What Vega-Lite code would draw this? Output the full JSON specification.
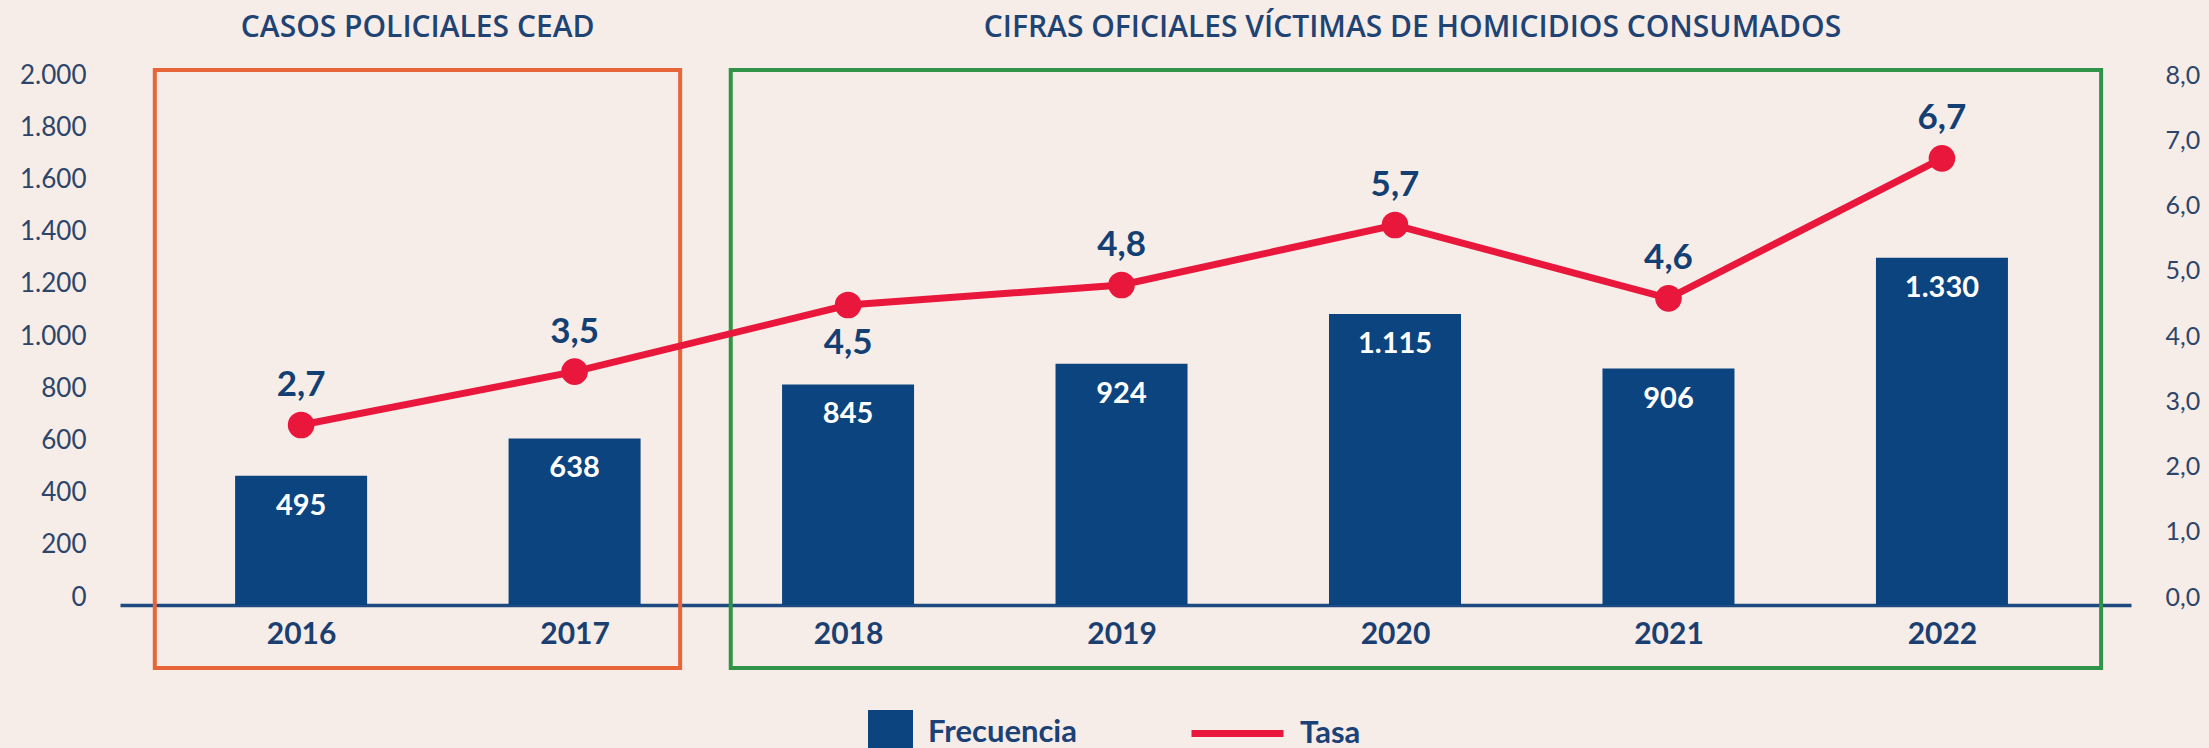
{
  "$schema": "https://vega.github.io/schema/vega-lite/v6.json",
  "width": 2011,
  "height": 522,
  "autosize": {"type": "none"},
  "padding": {"left": 120, "top": 83, "right": 78, "bottom": 143},
  "background": "#f6ede8",
  "config": {
    "view": {"stroke": null},
    "font": "Lato",
    "locale": {"number": {"decimal": ",", "thousands": ".", "grouping": [3], "currency": ["$", ""]}}
  },
  "datasets": {
    "serie": [
      {"anio": 2016, "frecuencia": 495, "tasa": 2.7},
      {"anio": 2017, "frecuencia": 638, "tasa": 3.5},
      {"anio": 2018, "frecuencia": 845, "tasa": 4.5},
      {"anio": 2019, "frecuencia": 924, "tasa": 4.8},
      {"anio": 2020, "frecuencia": 1115, "tasa": 5.7},
      {"anio": 2021, "frecuencia": 906, "tasa": 4.6},
      {"anio": 2022, "frecuencia": 1330, "tasa": 6.7}
    ],
    "grupos": [
      {"grupo": "CASOS POLICIALES CEAD", "desde": 2015.465, "hasta": 2017.386, "centro": 2016.426, "arriba": 2050, "abajo": -241},
      {"grupo": "CIFRAS OFICIALES VÍCTIMAS DE HOMICIDIOS CONSUMADOS", "desde": 2017.571, "hasta": 2022.582, "centro": 2020.064, "arriba": 2050, "abajo": -241}
    ]
  },
  "layer": [
    {
      "layer": [
        {
          "data": {"name": "grupos"},
          "transform": [{"filter": "datum.grupo === 'CASOS POLICIALES CEAD'"}],
          "mark": {"type": "rect", "filled": false, "color": "#e8653a", "strokeWidth": 4},
          "encoding": {
            "x": {"field": "desde", "type": "quantitative", "scale": {"domain": [2015.356, 2022.673], "nice": false, "zero": false},
              "axis": {"values": [2016, 2017, 2018, 2019, 2020, 2021, 2022], "format": "d", "title": null, "domainColor": "#1d4a80", "domainWidth": 3.5, "ticks": false, "grid": false, "labelFontSize": 30, "labelFontWeight": "bold", "labelColor": "#1b3f70", "labelPadding": 14, "labelFlush": false}},
            "x2": {"field": "hasta"},
            "y": {"field": "arriba", "type": "quantitative", "scale": {"domain": [0, 2000], "nice": false},
              "axis": {"values": [0, 200, 400, 600, 800, 1000, 1200, 1400, 1600, 1800, 2000], "format": ",d", "title": null, "domain": false, "ticks": false, "grid": false, "labelPadding": 34, "labelOffset": -8, "labelFontSize": 26, "labelColor": "#2d4569"}},
            "y2": {"field": "abajo"}
          }
        },
        {
          "data": {"name": "grupos"},
          "transform": [{"filter": "datum.grupo !== 'CASOS POLICIALES CEAD'"}],
          "mark": {"type": "rect", "filled": false, "color": "#2f9447", "strokeWidth": 4},
          "encoding": {
            "x": {"field": "desde", "type": "quantitative", "scale": {"domain": [2015.356, 2022.673], "nice": false, "zero": false}, "title": null},
            "x2": {"field": "hasta"},
            "y": {"field": "arriba", "type": "quantitative", "scale": {"domain": [0, 2000], "nice": false}, "title": null},
            "y2": {"field": "abajo"}
          }
        },
        {
          "data": {"name": "grupos"},
          "mark": {"type": "text", "font": "Open Sans", "fontSize": 30, "fontWeight": 600, "color": "#1f4373", "baseline": "middle", "align": "center", "dy": -42},
          "encoding": {
            "x": {"field": "centro", "type": "quantitative", "scale": {"domain": [2015.356, 2022.673], "nice": false, "zero": false}, "title": null},
            "y": {"field": "arriba", "type": "quantitative", "scale": {"domain": [0, 2000], "nice": false}, "title": null},
            "text": {"field": "grupo"}
          }
        },
        {
          "data": {"name": "serie"},
          "mark": {"type": "bar", "width": 132},
          "encoding": {
            "x": {"field": "anio", "type": "quantitative", "scale": {"domain": [2015.356, 2022.673], "nice": false, "zero": false}, "title": null},
            "y": {"field": "frecuencia", "type": "quantitative", "scale": {"domain": [0, 2000], "nice": false}, "title": null},
            "fill": {"datum": "Frecuencia", "type": "nominal", "scale": {"range": ["#0c4480"]},
              "legend": {"orient": "none", "legendX": 748, "legendY": 627, "title": null, "padding": 0, "symbolType": "square", "symbolSize": 2025, "symbolStrokeWidth": 0, "symbolOpacity": 1, "labelFontSize": 31, "labelFontWeight": "bold", "labelColor": "#1b4177", "labelOffset": 15}}
          }
        },
        {
          "data": {"name": "serie"},
          "mark": {"type": "text", "color": "#ffffff", "fontSize": 29, "fontWeight": "bold", "baseline": "middle", "dy": 30},
          "encoding": {
            "x": {"field": "anio", "type": "quantitative", "scale": {"domain": [2015.356, 2022.673], "nice": false, "zero": false}, "title": null},
            "y": {"field": "frecuencia", "type": "quantitative", "scale": {"domain": [0, 2000], "nice": false}, "title": null},
            "text": {"field": "frecuencia", "format": ",d"}
          }
        }
      ]
    },
    {
      "data": {"name": "serie"},
      "layer": [
        {
          "mark": {"type": "line", "strokeWidth": 7},
          "encoding": {
            "x": {"field": "anio", "type": "quantitative", "scale": {"domain": [2015.356, 2022.673], "nice": false, "zero": false}, "title": null},
            "y": {"field": "tasa", "type": "quantitative", "scale": {"domain": [0, 7.83], "nice": false}, "axis": null},
            "stroke": {"datum": "Tasa", "type": "nominal", "scale": {"range": ["#e8173b"]},
              "legend": {"orient": "none", "legendX": 1068, "legendY": 601, "title": null, "padding": 0, "symbolType": "stroke", "symbolSize": 8464, "symbolStrokeWidth": 7, "labelFontSize": 31, "labelFontWeight": "bold", "labelColor": "#1b4177", "labelOffset": 13}}
          }
        },
        {
          "mark": {"type": "circle", "size": 707, "color": "#e8173b", "opacity": 1},
          "encoding": {
            "x": {"field": "anio", "type": "quantitative", "scale": {"domain": [2015.356, 2022.673], "nice": false, "zero": false}, "title": null},
            "y": {"field": "tasa", "type": "quantitative", "scale": {"domain": [0, 7.83], "nice": false}, "axis": null}
          }
        },
        {
          "transform": [{"filter": "datum.anio !== 2018"}],
          "mark": {"type": "text", "fontSize": 35, "fontWeight": "bold", "color": "#133f72", "baseline": "middle", "dy": -40},
          "encoding": {
            "x": {"field": "anio", "type": "quantitative", "scale": {"domain": [2015.356, 2022.673], "nice": false, "zero": false}, "title": null},
            "y": {"field": "tasa", "type": "quantitative", "scale": {"domain": [0, 7.83], "nice": false}, "axis": null},
            "text": {"field": "tasa", "format": ".1f"}
          }
        },
        {
          "transform": [{"filter": "datum.anio === 2018"}],
          "mark": {"type": "text", "fontSize": 35, "fontWeight": "bold", "color": "#133f72", "baseline": "middle", "dy": 38},
          "encoding": {
            "x": {"field": "anio", "type": "quantitative", "scale": {"domain": [2015.356, 2022.673], "nice": false, "zero": false}, "title": null},
            "y": {"field": "tasa", "type": "quantitative", "scale": {"domain": [0, 7.83], "nice": false}, "axis": null},
            "text": {"field": "tasa", "format": ".1f"}
          }
        }
      ]
    },
    {
      "data": {"values": [{}]},
      "mark": {"type": "rule", "opacity": 0},
      "encoding": {
        "y": {"datum": 0, "type": "quantitative", "scale": {"domain": [0, 8], "nice": false},
          "axis": {"orient": "right", "values": [0, 1, 2, 3, 4, 5, 6, 7, 8], "format": ".1f", "title": null, "domain": false, "ticks": false, "grid": false, "labelPadding": 34, "labelOffset": -8, "labelFontSize": 25, "labelColor": "#2d4569"}}
      }
    }
  ],
  "resolve": {"scale": {"y": "independent"}, "axis": {"y": "independent"}}
}
